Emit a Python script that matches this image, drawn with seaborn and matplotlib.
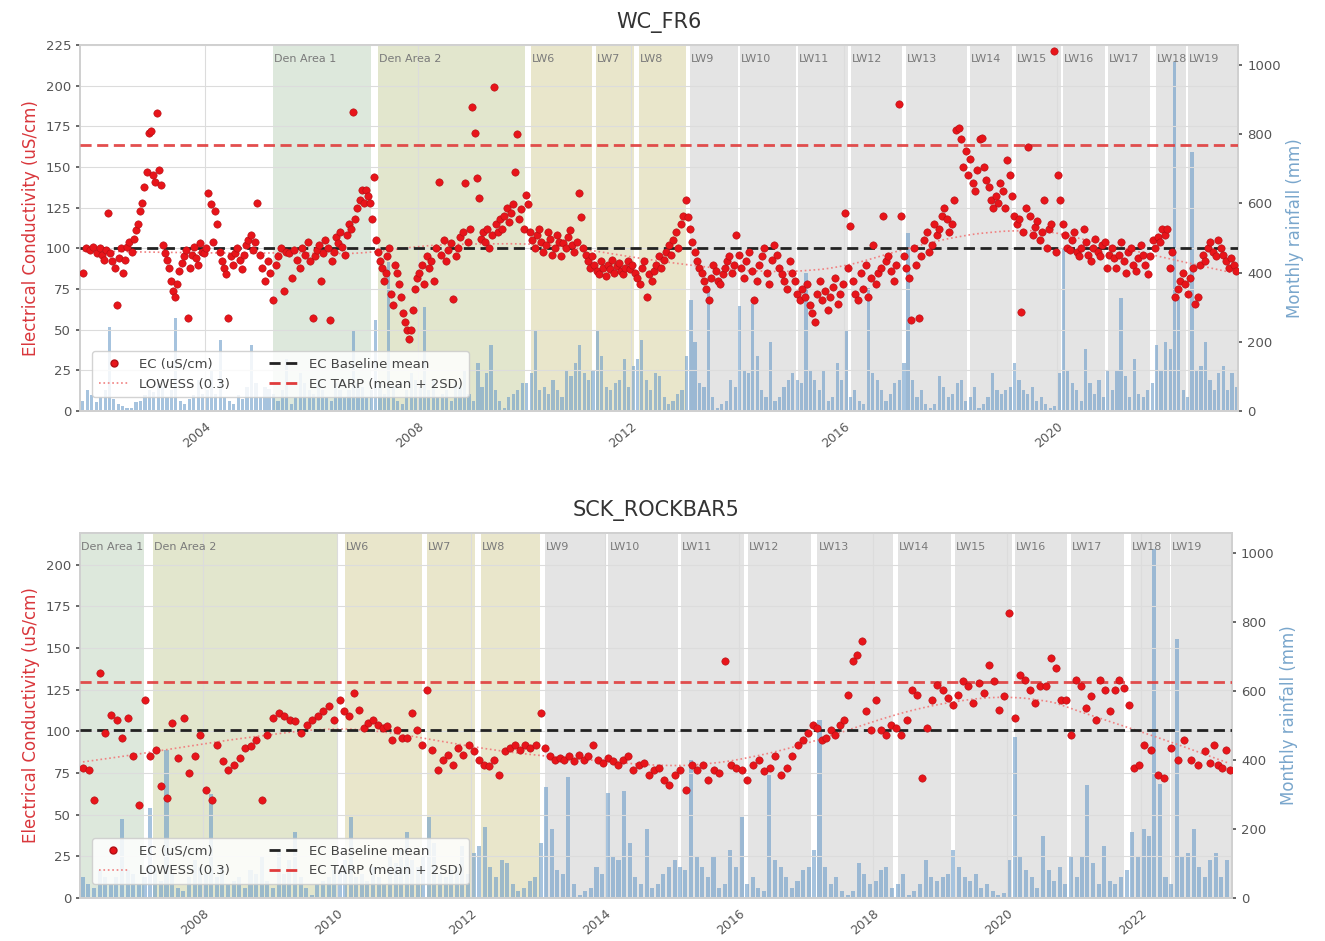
import numpy as np
import pandas as pd
import matplotlib
matplotlib.use("Agg")
import matplotlib.pyplot as plt
import matplotlib.dates as mdates
import matplotlib.transforms as mtransforms
from matplotlib.lines import Line2D
import seaborn as sns

# ---------------- DATA ----------------
# Mining-area spans (decimal years)
span_names = ["Den Area 1", "Den Area 2", "LW6", "LW7", "LW8", "LW9", "LW10", "LW11",
              "LW12", "LW13", "LW14", "LW15", "LW16", "LW17", "LW18", "LW19"]
span_start = [2005.28, 2007.25, 2010.12, 2011.34, 2012.15, 2013.10, 2014.05, 2015.13,
              2016.13, 2017.17, 2018.37, 2019.22, 2020.12, 2020.96, 2021.85, 2022.45]
span_end = [2007.11, 2010.00, 2011.27, 2012.06, 2013.03, 2014.00, 2015.09, 2016.08,
            2017.08, 2018.30, 2019.16, 2020.07, 2020.90, 2021.74, 2022.43, 2023.60]
span_colors = ["#dde8dc", "#e2e6cd", "#e9e6cb", "#e9e6cb", "#e9e6cb"] + ["#e4e4e4"] * 11

# Monthly rainfall (mm)
rain_2001 = [30, 60, 45, 25]  # Sep-Dec
rain_2002 = [40, 60, 243, 35, 20, 15, 10, 8, 25, 30, 45, 60]
rain_2003 = [55, 80, 70, 40, 60, 270, 30, 20, 35, 45, 90, 50]
rain_2004 = [60, 120, 50, 206, 40, 30, 20, 45, 35, 70, 190, 80]
rain_2005 = [40, 70, 65, 50, 30, 60, 150, 20, 40, 110, 80, 60]
rain_2006 = [50, 90, 60, 40, 30, 80, 60, 40, 60, 230, 80, 70]
rain_2007 = [40, 60, 262, 80, 50, 430, 70, 30, 20, 60, 110, 90]
rain_2008 = [70, 300, 60, 90, 40, 50, 60, 30, 80, 70, 120, 50]
rain_2009 = [30, 140, 70, 110, 191, 60, 30, 10, 40, 50, 60, 80]
rain_2010 = [80, 110, 235, 60, 70, 50, 90, 60, 40, 120, 100, 140]
rain_2011 = [190, 110, 90, 120, 235, 160, 70, 60, 80, 90, 150, 70]
rain_2012 = [130, 150, 205, 90, 60, 110, 100, 40, 20, 30, 50, 60]
rain_2013 = [160, 322, 200, 80, 70, 350, 40, 10, 20, 30, 90, 70]
rain_2014 = [304, 120, 110, 310, 160, 60, 40, 200, 30, 40, 70, 90]
rain_2015 = [110, 90, 80, 400, 120, 90, 60, 120, 30, 40, 140, 90]
rain_2016 = [235, 40, 60, 30, 20, 356, 110, 90, 60, 30, 50, 80]
rain_2017 = [90, 140, 516, 90, 40, 60, 20, 10, 20, 100, 70, 40]
rain_2018 = [50, 80, 90, 30, 40, 70, 10, 20, 40, 110, 60, 50]
rain_2019 = [60, 70, 140, 90, 60, 50, 70, 30, 40, 20, 10, 15]
rain_2020 = [110, 467, 120, 80, 60, 30, 180, 80, 50, 90, 40, 120]
rain_2021 = [60, 120, 328, 100, 40, 150, 50, 40, 60, 80, 190, 120]
rain_2022 = [200, 180, 1010, 330, 60, 40, 750, 120, 130, 200, 90, 60]
rain_2023 = [110, 130, 60, 110, 70]  # Jan-May

# WC_FR6 EC (uS/cm), samples in time order within each period
fr6_2001 = [85, 100, 99, 101, 97]
fr6_2002 = [100, 96, 93, 99, 122, 97, 92, 88, 65, 94, 100, 85, 93, 101, 104, 98, 106, 111,
            115, 123, 128, 138, 147, 171, 172]
fr6_2003 = [145, 141, 183, 148, 139, 102, 97, 93, 88, 80, 74, 70, 78, 86, 91, 95, 99, 57,
            88, 96, 101, 94, 90, 103, 98, 97]
fr6_2004 = [100, 134, 127, 104, 123, 115, 98, 92, 88, 84, 57, 95, 90, 97, 100, 93, 87, 96,
            102, 105, 108, 99, 104, 128]
fr6_2005 = [96, 88, 80, 92, 85, 68, 90, 95, 100, 74, 98, 97, 82, 99, 93, 88, 100, 96, 104, 92]
fr6_2006 = [57, 95, 99, 102, 80, 97, 105, 100, 56, 92, 98, 107, 103, 110, 101, 96, 108, 115,
            112, 184, 118, 125, 130, 136, 128]
fr6_2007 = [136, 132, 128, 118, 144, 105, 98, 92, 88, 80, 85, 95, 100, 72, 65, 90, 85, 78,
            70, 60, 55, 50, 44, 50, 62, 75, 82]
fr6_2008 = [85, 90, 78, 95, 88, 92, 80, 100, 141, 96, 105, 92, 99, 103, 69, 95, 100, 107,
            110, 140, 104, 112]
fr6_2009 = [187, 171, 143, 131, 106, 110, 104, 112, 100, 108, 199, 115, 110, 118, 112, 120,
            125, 116, 122, 127, 147, 170, 118, 124, 112]
fr6_2010 = [133, 127, 110, 105, 100, 108, 112, 104, 98, 102, 110, 106, 96, 100, 108, 104,
            95, 103, 100, 107, 111, 102, 98, 104]
fr6_2011 = [134, 119, 100, 96, 92, 88, 95, 90, 86, 84, 92, 88, 83, 90, 87, 93, 85, 89, 91,
            86, 84, 88, 92, 87]
fr6_2012 = [90, 85, 82, 78, 88, 92, 70, 84, 80, 86, 90, 95, 88, 93, 98, 102, 96, 105, 110,
            100, 115, 120]
fr6_2013 = [130, 119, 112, 104, 98, 92, 88, 85, 80, 75, 68, 82, 90, 86, 80, 78, 84, 88, 92,
            95, 85, 90, 108]
fr6_2014 = [96, 88, 82, 92, 98, 86, 68, 80, 90, 95, 100, 85, 78, 93, 102, 96, 88, 84, 80, 75, 92]
fr6_2015 = [85, 80, 72, 68, 75, 70, 78, 65, 60, 55, 72, 80, 68, 74, 62, 70, 76, 82, 66, 72, 78]
fr6_2016 = [122, 88, 114, 80, 72, 68, 85, 75, 90, 70, 82, 102, 78, 85, 88, 120, 92, 95, 86, 80, 90]
fr6_2017 = [189, 120, 95, 88, 82, 56, 100, 90, 57, 95, 105, 110, 98, 102, 115, 108, 112, 120,
            125, 118, 110]
fr6_2018 = [115, 130, 173, 174, 167, 150, 160, 145, 155, 140, 135, 148, 167, 168, 150, 142,
            138, 130, 125, 132, 128, 140, 135]
fr6_2019 = [125, 154, 145, 132, 120, 115, 118, 61, 110, 125, 162, 120, 108, 113, 117, 105,
            110, 130, 100, 112, 115, 221, 98]
fr6_2020 = [145, 130, 115, 108, 100, 99, 105, 110, 98, 95, 100, 112, 104, 96, 92, 100, 106,
            98, 95, 102, 104, 88, 96]
fr6_2021 = [100, 94, 88, 96, 104, 92, 85, 98, 100, 90, 86, 94, 102, 96, 90, 84, 95, 105, 100,
            107, 104, 112]
fr6_2022 = [108, 112, 88, 98, 70, 75, 80, 85, 78, 72, 82, 88, 66, 70, 90, 96, 92, 100, 104, 98, 95]
fr6_2023 = [105, 100, 96, 92, 88, 94, 90, 86]

# SCK_ROCKBAR5 EC (uS/cm)
rb5_2006 = [78, 77, 59, 135, 99, 110, 107, 96, 108, 85]  # Mar-Dec
rb5_2007 = [56, 119, 85, 89, 67, 60, 105, 84, 108, 75, 85, 98]
rb5_2008 = [65, 59, 92, 82, 77, 80, 84, 90, 91, 95, 59, 98]
rb5_2009 = [108, 111, 109, 107, 106, 99, 104, 107, 109, 112, 115, 107]
rb5_2010 = [119, 112, 109, 123, 113, 102, 105, 107, 104, 102, 103, 95, 101, 96]
rb5_2011 = [96, 111, 101, 92, 125, 89, 77, 83, 86, 80, 90, 86, 92]
rb5_2012 = [88, 83, 80, 79, 83, 74, 88, 90, 92, 89, 92, 90, 92]
rb5_2013 = [111, 90, 85, 83, 84, 83, 85, 82, 86, 83, 85, 92, 83, 81]
rb5_2014 = [84, 82, 80, 83, 85, 77, 80, 81, 74, 77, 78, 71, 68]
rb5_2015 = [74, 77, 65, 80, 77, 80, 71, 77, 75, 142, 80, 78]
rb5_2016 = [77, 71, 80, 83, 76, 78, 85, 74, 78, 85, 92, 95]
rb5_2017 = [99, 104, 102, 95, 96, 101, 98, 104, 107, 122, 142, 146, 154, 112, 101]
rb5_2018 = [119, 101, 98, 104, 102, 98, 107, 125, 122, 72, 102, 119, 128]
rb5_2019 = [125, 120, 116, 122, 130, 127, 117, 129, 123, 140, 130, 113, 121]
rb5_2020 = [171, 108, 134, 131, 125, 117, 127, 127, 144, 138, 119, 119, 98]
rb5_2021 = [131, 127, 114, 121, 107, 131, 125, 112, 125, 131, 126, 116, 78, 80]
rb5_2022 = [92, 89, 74, 72, 90, 83, 95, 83, 80, 88]
rb5_2023 = [81, 92, 80, 78, 89, 77]  # Jan-May

fr6_baseline, fr6_tarp = 100.0, 163.5
rb5_baseline, rb5_tarp = 100.5, 129.7

# ---------------- HELPERS ----------------
def dy(y):
    yi = int(np.floor(y))
    return pd.Timestamp(year=yi, month=1, day=1) + pd.Timedelta(days=(y - yi) * 365.25)


def spread(t0, t1, vals):
    t0, t1 = pd.Timestamp(t0), pd.Timestamp(t1)
    n = len(vals)
    return [t0 + (t1 - t0) * (i + 0.5) / n for i in range(n)]


def build_ec(blocks):
    dates, vals = [], []
    for t0, t1, v in blocks:
        dates += spread(t0, t1, v)
        vals += list(v)
    return pd.DataFrame({"date": pd.to_datetime(dates), "ec": np.array(vals, float)})


def lowess(x, y, frac=0.3, it=3):
    n = len(x)
    r = int(np.ceil(frac * n))
    h = np.array([np.sort(np.abs(x - x[i]))[r] for i in range(n)])
    w = np.clip(np.abs((x[:, None] - x[None, :]) / h[None, :]), 0.0, 1.0)
    w = (1 - w ** 3) ** 3
    yest = np.zeros(n)
    delta = np.ones(n)
    for _ in range(it):
        for i in range(n):
            wt = delta * w[:, i]
            b = np.array([np.sum(wt * y), np.sum(wt * y * x)])
            A = np.array([[np.sum(wt), np.sum(wt * x)], [np.sum(wt * x), np.sum(wt * x * x)]])
            beta = np.linalg.lstsq(A, b, rcond=None)[0]
            yest[i] = beta[0] + beta[1] * x[i]
        res = y - yest
        s = np.median(np.abs(res))
        delta = np.clip(res / (6.0 * s), -1, 1)
        delta = (1 - delta ** 2) ** 2
    return yest


rain_blocks = [(2001, 9, rain_2001), (2002, 1, rain_2002), (2003, 1, rain_2003), (2004, 1, rain_2004),
               (2005, 1, rain_2005), (2006, 1, rain_2006), (2007, 1, rain_2007), (2008, 1, rain_2008),
               (2009, 1, rain_2009), (2010, 1, rain_2010), (2011, 1, rain_2011), (2012, 1, rain_2012),
               (2013, 1, rain_2013), (2014, 1, rain_2014), (2015, 1, rain_2015), (2016, 1, rain_2016),
               (2017, 1, rain_2017), (2018, 1, rain_2018), (2019, 1, rain_2019), (2020, 1, rain_2020),
               (2021, 1, rain_2021), (2022, 1, rain_2022), (2023, 1, rain_2023)]
r_dates, r_vals = [], []
for yr, m0, vals in rain_blocks:
    for k, v in enumerate(vals):
        r_dates.append(pd.Timestamp(year=yr, month=m0 + k, day=15))
        r_vals.append(v)
rain = pd.DataFrame({"date": r_dates, "rain": r_vals})

fr6_blocks = [("2001-09-01", "2002-01-01", fr6_2001)]
for yr, v in zip(range(2002, 2023), [fr6_2002, fr6_2003, fr6_2004, fr6_2005, fr6_2006, fr6_2007,
                                     fr6_2008, fr6_2009, fr6_2010, fr6_2011, fr6_2012, fr6_2013,
                                     fr6_2014, fr6_2015, fr6_2016, fr6_2017, fr6_2018, fr6_2019,
                                     fr6_2020, fr6_2021, fr6_2022]):
    fr6_blocks.append((f"{yr}-01-01", f"{yr + 1}-01-01", v))
fr6_blocks.append(("2023-01-01", "2023-05-25", fr6_2023))
fr6 = build_ec(fr6_blocks)

rb5_blocks = [("2006-03-01", "2007-01-01", rb5_2006)]
for yr, v in zip(range(2007, 2023), [rb5_2007, rb5_2008, rb5_2009, rb5_2010, rb5_2011, rb5_2012,
                                     rb5_2013, rb5_2014, rb5_2015, rb5_2016, rb5_2017, rb5_2018,
                                     rb5_2019, rb5_2020, rb5_2021, rb5_2022]):
    rb5_blocks.append((f"{yr}-01-01", f"{yr + 1}-01-01", v))
rb5_blocks.append(("2023-01-01", "2023-05-10", rb5_2023))
rb5 = build_ec(rb5_blocks)

# ---------------- PLOT ----------------
sns.set_theme(style="whitegrid")
plt.rcParams["font.family"] = ["DejaVu Sans"]

fig = plt.figure(figsize=(13.25, 9.41), dpi=100)

EC_RED = "#e8141a"
LEFT_LABEL = "#d9363b"
RAIN_BLUE = "#6b9bc8"
RIGHT_LABEL = "#79a6cc"
GRID = "#dcdcdc"


def panel(rect, title, ec, baseline, tarp, xlim, ylim_ec, yticks_ec, year_step):
    ax = fig.add_axes(rect)
    ax2 = ax.twinx()
    ax.set_zorder(ax2.get_zorder() + 1)
    ax.patch.set_visible(False)
    ax2.patch.set_visible(True)
    ax2.patch.set_facecolor("white")

    x0, x1 = dy(xlim[0]), dy(xlim[1])
    # spans + labels
    trans = mtransforms.blended_transform_factory(ax.transData, ax.transAxes)
    for name, s, e, c in zip(span_names, span_start, span_end, span_colors):
        ds, de = dy(s), dy(e)
        if de <= x0 or ds >= x1:
            continue
        ax2.axvspan(max(ds, x0), min(de, x1), color=c, lw=0, zorder=0)
        ax.text(max(ds, x0) + pd.Timedelta(days=6), 0.962, name, transform=trans,
                fontsize=8, color="#7a7a7a", ha="left", va="center", zorder=1, clip_on=True)

    # rainfall bars
    r = rain[(rain["date"] >= x0 - pd.Timedelta(days=20)) & (rain["date"] <= x1)]
    ax2.bar(r["date"], r["rain"], width=22, color=RAIN_BLUE, alpha=0.6, lw=0, zorder=2)
    ax2.set_ylim(0, 1058)
    ax2.set_yticks([0, 200, 400, 600, 800, 1000])
    ax2.grid(False)
    ax2.set_ylabel("Monthly rainfall (mm)", color=RIGHT_LABEL, fontsize=12)
    ax2.tick_params(axis="y", colors="#555555", labelsize=9.5, length=3)

    # EC points
    sns.scatterplot(data=ec, x="date", y="ec", ax=ax, color=EC_RED, edgecolor="#b01015",
                    linewidth=0.4, s=28, zorder=4, legend=False)
    # LOWESS
    xn = mdates.date2num(ec["date"])
    smooth = lowess(xn, ec["ec"].to_numpy(), frac=0.3)
    ax.plot(ec["date"], smooth, ls=":", color="#f08080", lw=1.2, zorder=3)
    # baseline / TARP
    ax.axhline(baseline, color="#222222", ls=(0, (4, 2)), lw=2, zorder=3)
    ax.axhline(tarp, color="#e03c3c", ls=(0, (4, 2)), lw=2, alpha=0.9, zorder=3)

    ax.set_xlim(x0, x1)
    ax.set_ylim(*ylim_ec)
    ax.set_yticks(yticks_ec)
    ax.set_xlabel("")
    ax.set_ylabel("Electrical Conductivity (uS/cm)", color=LEFT_LABEL, fontsize=12)
    ax.xaxis.set_major_locator(mdates.YearLocator(base=year_step))
    ax.xaxis.set_major_formatter(mdates.DateFormatter("%Y"))
    ax.tick_params(axis="y", colors="#555555", labelsize=9.5, length=3)
    ax.tick_params(axis="x", colors="#555555", labelsize=9, length=3)
    for lab in ax.get_xticklabels():
        lab.set_rotation(40)
        lab.set_ha("right")
        lab.set_rotation_mode("anchor")
    ax.grid(True, color=GRID, lw=0.8)
    for sp in list(ax.spines.values()) + list(ax2.spines.values()):
        sp.set_color("#d0d0d0")
    ax.set_title(title, fontsize=15, color="#333333", pad=12)

    handles = [
        Line2D([], [], marker="o", ls="none", color=EC_RED, markeredgecolor="#b01015",
               markersize=5, label="EC (uS/cm)"),
        Line2D([], [], ls=":", color="#f08080", lw=1.2, label="LOWESS (0.3)"),
        Line2D([], [], ls=(0, (4, 2)), color="#222222", lw=2, label="EC Baseline mean"),
        Line2D([], [], ls=(0, (4, 2)), color="#e03c3c", lw=2, label="EC TARP (mean + 2SD)"),
    ]
    leg = ax.legend(handles=handles, loc="lower left", ncol=2, fontsize=9.5, frameon=True,
                    framealpha=0.85, edgecolor="#cccccc", bbox_to_anchor=(0.005, 0.02),
                    columnspacing=3.0, handlelength=2.2, borderpad=0.5)
    leg.get_frame().set_facecolor("white")
    for t in leg.get_texts():
        t.set_color("#444444")
    return ax, ax2


panel([0.0604, 0.5632, 0.8740, 0.3890], "WC_FR6", fr6, fr6_baseline, fr6_tarp,
      (2001.65, 2023.40), (0, 225), np.arange(0, 226, 25), 4)
panel([0.0604, 0.0457, 0.8694, 0.3880], "SCK_ROCKBAR5", rb5, rb5_baseline, rb5_tarp,
      (2006.16, 2023.36), (0, 219), np.arange(0, 201, 25), 2)

fig.savefig("out.png", dpi=100, facecolor="white")
